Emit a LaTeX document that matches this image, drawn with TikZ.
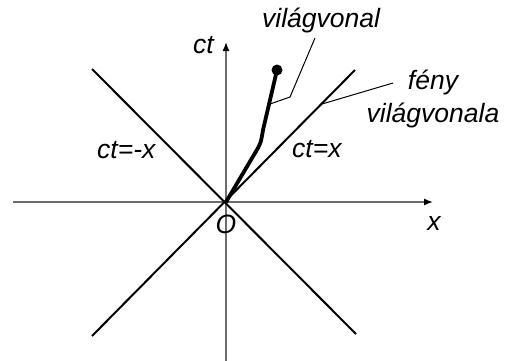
\documentclass[tikz,border=0pt]{standalone}
\usepackage{fontspec}
\setmainfont{Liberation Sans}
\usetikzlibrary{arrows.meta, positioning, calc}

\begin{document}
\begin{tikzpicture}[x=1pt, y=-1pt,
    axis/.style={draw=gray!85!black, line width=1.4pt, -{Latex[length=9pt, width=7pt, black]}},
    light/.style={line width=2pt},
    wline/.style={line width=3.8pt, line cap=round, line join=round},
    leader/.style={line width=1pt},
    lbl/.style={font=\fontsize{26.5}{33}\selectfont\itshape, inner sep=0pt}
]
\useasboundingbox (0,0) rectangle (505,360);

% axes
\coordinate (o) at (226,202);
\coordinate (xl) at (13,202);
\coordinate (xr) at (433,202);
\coordinate (yb) at (226,362);
\coordinate (yt) at (226,42);
\draw[axis] (xl) -- (xr);
\draw[axis] (yb) -- (yt);

% light lines
\coordinate (ul) at (92,69);
\coordinate (dr) at (356,334);
\coordinate (ur) at (355,70);
\coordinate (dl) at (92,336);
\draw[light] (ul) -- (dr);
\draw[light] (dl) -- (ur);

% world line with the event
\node[circle, fill, inner sep=0pt, minimum size=11pt] (ev) at (277,70) {};
\coordinate (bend) at (258,148);
\draw[wline] (o) -- (bend) .. controls (261,142) .. (263,130) -- (ev.center);

% labels
\node[lbl, anchor=base west] (wlab) at (262,27) {világvonal};
\node[lbl, align=center] (flab) at (433,99) {fény\\világvonala};
\node[lbl, anchor=base west] (ctl) at (193,53) {ct};
\node[lbl, anchor=base west] (mlab) at (97,158) {ct=-x};
\node[lbl, anchor=base west] (plab) at (292,157) {ct=x};
\node[lbl, anchor=base] (olab) at (226,233) {O};
\node[lbl, anchor=base] (xlab) at (434,230) {x};

% leader lines
\coordinate (wfoot) at (270,104);
\coordinate (wknee) at (290,97);
\coordinate (wtop) at (315,38);
\draw[leader] (wfoot) -- (wknee) -- (wtop);
\coordinate (ffoot) at (322,104);
\coordinate (ftop) at (393,83);
\draw[leader] (ffoot) -- (ftop);
\end{tikzpicture}
\end{document}
